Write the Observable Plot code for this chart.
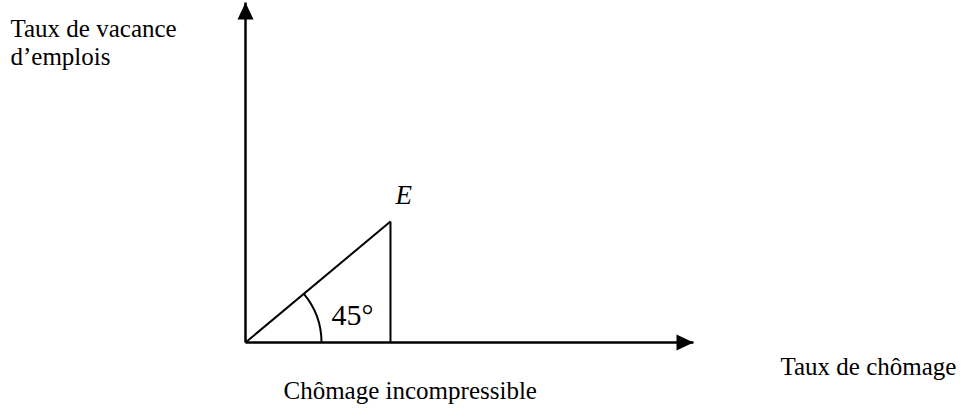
<!DOCTYPE html>
<html><head><meta charset="utf-8">
<script src="https://cdn.jsdelivr.net/npm/d3@7"></script>
<script src="https://cdn.jsdelivr.net/npm/@observablehq/plot@0.6"></script>
<style>html,body{margin:0;padding:0;background:#fff;}</style>
</head><body><div id="chart"></div>
<script>
// Axis extents (in rate units) and the equilibrium point E (u = v)
const axisEnds = [{axis: "x", u: 3.09, v: 0}, {axis: "y", u: 0, v: 2.81}];
const pointE = [{u: 1, v: 1, label: "E"}];
const angleLabel = ["45°"];
const yLabel = ["Taux de vacance\nd’emplois"];
const xLabel = ["Taux de chômage"];
const baseLabel = ["Chômage incompressible"];

const W = 965, H = 411;
const mL = 245, mR = 272, mT = 2, mB = 69;
const xDomain = [0, axisEnds[0].u];
const yDomain = [0, axisEnds[1].v];

// standalone scales to find the on-screen angle of the OE line
const xs = Plot.scale({x: {domain: xDomain, range: [mL, W - mR]}});
const ys = Plot.scale({y: {domain: yDomain, range: [H - mB, mT]}});
const theta = Math.atan2(ys.apply(0) - ys.apply(pointE[0].v), xs.apply(pointE[0].u) - xs.apply(0));

const arrowHead = {draw(ctx) { ctx.moveTo(0, 0); ctx.lineTo(-8, 17); ctx.lineTo(8, 17); ctx.closePath(); }};
const angleArc = {draw(ctx) { const r = 76; ctx.moveTo(r, 0); ctx.arc(0, 0, r, 0, -theta, true); }};

const zero = () => 0;
const font = 25;
const serif = "'Liberation Serif', 'Times New Roman', serif";

const chart = Plot.plot({
  width: W, height: H,
  marginLeft: mL, marginRight: mR, marginTop: mT, marginBottom: mB,
  x: {domain: xDomain, axis: null},
  y: {domain: yDomain, axis: null},
  style: {fontFamily: serif, background: "white", color: "black"},
  marks: [
    // axes
    Plot.link(axisEnds, {x1: zero, y1: zero, x2: "u", y2: "v", stroke: "black", strokeWidth: 2.5}),
    Plot.dot(axisEnds, {x: "u", y: "v", symbol: arrowHead, rotate: d => d.axis === "x" ? 90 : 0, fill: "black", stroke: "none", r: 8}),
    // OE line and vertical drop from E
    Plot.link(pointE, {x1: zero, y1: zero, x2: "u", y2: "v", stroke: "black", strokeWidth: 2}),
    Plot.link(pointE, {x1: "u", y1: zero, x2: "u", y2: "v", stroke: "black", strokeWidth: 2}),
    // angle arc at origin
    Plot.dot([0], {x: zero, y: zero, symbol: angleArc, fill: "none", stroke: "black", strokeWidth: 2, r: 8}),
    // labels
    Plot.text(pointE, {x: "u", y: "v", text: "label", dx: 5, dy: -18, textAnchor: "start", lineAnchor: "bottom", fontStyle: "italic", fontSize: 27, fontFamily: serif}),
    Plot.text(angleLabel, {frameAnchor: "bottom-left", text: d => d, dx: 86, dy: -18, textAnchor: "start", lineAnchor: "bottom", fontSize: 30, fontFamily: serif}),
    Plot.text(yLabel, {frameAnchor: "top-left", text: d => d, dx: -235, dy: 15, textAnchor: "start", lineAnchor: "top", fontSize: font, lineHeight: 1.12, fontFamily: serif}),
    Plot.text(baseLabel, {frameAnchor: "bottom-left", text: d => d, dx: 38, dy: 56, textAnchor: "start", lineAnchor: "bottom", fontSize: font, fontFamily: serif}),
    Plot.text(xLabel, {frameAnchor: "bottom-right", text: d => d, dx: 87, dy: 32, textAnchor: "start", lineAnchor: "bottom", fontSize: font, fontFamily: serif})
  ]
});
document.getElementById("chart").appendChild(chart);
</script>
</body></html>
